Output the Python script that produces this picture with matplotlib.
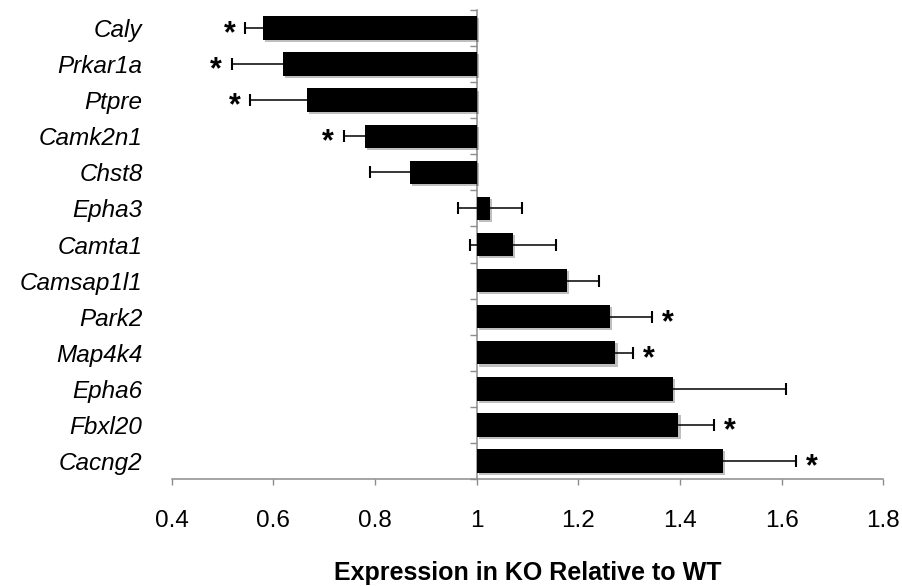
import numpy as np
import matplotlib.pyplot as plt
import matplotlib.patheffects as pe

genes = ["Caly", "Prkar1a", "Ptpre", "Camk2n1", "Chst8", "Epha3", "Camta1",
         "Camsap1l1", "Park2", "Map4k4", "Epha6", "Fbxl20", "Cacng2"]
expr = [0.579, 0.619, 0.666, 0.780, 0.869, 1.026, 1.071,
        1.178, 1.262, 1.273, 1.387, 1.397, 1.485]
err = [0.034, 0.100, 0.111, 0.041, 0.078, 0.063, 0.085,
       0.063, 0.082, 0.035, 0.221, 0.069, 0.143]
signif = [True, True, True, True, False, False, False,
          False, True, True, False, True, True]

xticks = [0.4, 0.6, 0.8, 1, 1.2, 1.4, 1.6, 1.8]
xticklabels = ["0.4", "0.6", "0.8", "1", "1.2", "1.4", "1.6", "1.8"]
base = 1.0

plt.rcParams['font.family'] = ['Liberation Sans', 'DejaVu Sans']
gray = '#8c8c8c'

fig = plt.figure(figsize=(9.02, 5.86), dpi=100)
ax = fig.add_axes([171.7/902, 1 - 479/586, (883.3 - 171.7)/902, (479 - 10)/586])

y = np.arange(len(genes))
vals = np.array(expr)
ax.barh(y, vals - base, left=base, height=0.65, color='black', zorder=2,
        path_effects=[pe.SimplePatchShadow(offset=(1.5, -1.5), alpha=0.25), pe.Normal()])
ax.errorbar(vals, y, xerr=err, fmt='none', ecolor='black', elinewidth=1.1,
            capsize=4, capthick=1.5, zorder=3)

# significance stars just outside the error bar
for yi, v, e, s in zip(y, vals, err, signif):
    if not s:
        continue
    if v < base:
        ax.annotate('*', (v - e, yi), xytext=(-11.5, -4.5), textcoords='offset points',
                    ha='center', va='center', fontsize=22, fontweight='bold')
    else:
        ax.annotate('*', (v + e, yi), xytext=(11.5, -4.5), textcoords='offset points',
                    ha='center', va='center', fontsize=22, fontweight='bold')

ax.set_xlim(xticks[0], xticks[-1])
ax.set_ylim(len(genes) - 0.5, -0.5)

ax.set_xticks(xticks)
ax.set_xticklabels(xticklabels, fontsize=17.5)
ax.tick_params(axis='x', direction='out', length=4.5, width=1, color=gray, pad=18)

ax.set_yticks(y)
ax.set_yticklabels(genes, fontsize=17.5, style='italic')
ax.tick_params(axis='y', length=0, pad=21)

for side in ['top', 'right', 'left']:
    ax.spines[side].set_visible(False)
ax.spines['bottom'].set_color(gray)
ax.spines['bottom'].set_linewidth(1.1)

# vertical axis drawn at x = 1 with ticks between categories
loc = (base - xticks[0]) / (xticks[-1] - xticks[0])
sec = ax.secondary_yaxis(loc)
sec.set_yticks(np.arange(len(genes) + 1) - 0.5)
sec.set_yticklabels([])
sec.tick_params(direction='out', length=5, width=1, color=gray)
sec.spines['left'].set_color(gray)
sec.spines['left'].set_linewidth(1.1)

ax.set_xlabel('Expression in KO Relative to WT', fontsize=18, fontweight='bold', labelpad=21)

fig.savefig('out.png', dpi=100)
